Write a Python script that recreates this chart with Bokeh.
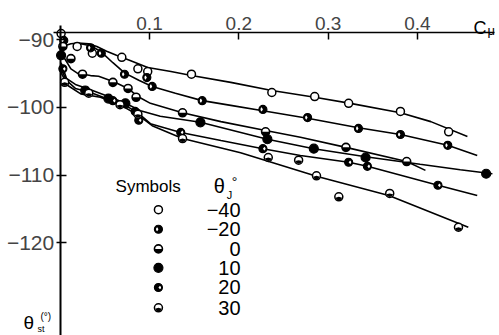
import math
from bokeh.plotting import figure
from bokeh.models import Label, FixedTicker, Range1d, LinearAxis
from bokeh.embed import file_html
from bokeh.resources import INLINE

FONT = "Liberation Sans"

# ---- data ----
theta_j = ["\u221240", "\u221220", "0", "10", "20", "30"]

# theta_J = -40 (open circles)
m40_x = [0.001, 0.019, 0.036, 0.069, 0.087, 0.098, 0.147, 0.237, 0.285, 0.323, 0.381, 0.435]
m40_y = [-89.1, -91.0, -92.0, -92.6, -94.3, -94.7, -95.1, -97.8, -98.4, -99.4, -100.6, -103.6]
m40_cx = [0.001, 0.005, 0.012, 0.020, 0.032, 0.041, 0.052, 0.063, 0.079, 0.098, 0.124, 0.147, 0.191, 0.237, 0.285, 0.325, 0.381, 0.415, 0.456]
m40_cy = [-91.3, -90.9, -90.6, -90.5, -90.6, -91.0, -91.7, -92.3, -93.1, -94.1, -94.7, -95.3, -96.3, -97.5, -98.5, -99.4, -100.8, -102.1, -104.3]

# theta_J = -20
m20_x = [0.004, 0.034, 0.046, 0.072, 0.097, 0.103, 0.159, 0.227, 0.277, 0.334, 0.381, 0.434]
m20_y = [-90.1, -91.2, -92.0, -95.1, -95.6, -96.9, -99.0, -100.3, -101.5, -103.1, -104.0, -105.6]
m20_cx = [0.023, 0.034, 0.045, 0.059, 0.072, 0.088, 0.103, 0.129, 0.159, 0.191, 0.227, 0.277, 0.334, 0.381, 0.434, 0.467]
m20_cy = [-90.6, -90.9, -91.7, -93.4, -94.9, -96.0, -96.9, -97.9, -99.0, -99.7, -100.5, -101.6, -103.0, -104.0, -105.6, -107.1]

# theta_J = 0
z0_x = [0.003, 0.012, 0.025, 0.059, 0.076, 0.085, 0.137, 0.230, 0.320, 0.388]
z0_y = [-91.0, -92.8, -95.1, -96.3, -97.2, -98.5, -100.8, -103.6, -105.9, -108.0]
z0_cx = [0.001, 0.005, 0.012, 0.020, 0.034, 0.043, 0.060, 0.076, 0.087, 0.101, 0.137, 0.180, 0.230, 0.269, 0.320, 0.388, 0.409]
z0_cy = [-91.2, -92.8, -94.3, -95.0, -95.3, -95.4, -96.2, -97.2, -98.4, -99.4, -100.8, -102.1, -103.4, -104.4, -105.9, -108.0, -109.3]

# theta_J = 10
p10_x = [0.001, 0.028, 0.054, 0.073, 0.157, 0.232, 0.284, 0.342, 0.477]
p10_y = [-92.3, -97.5, -98.7, -99.4, -102.2, -104.7, -106.1, -107.4, -109.8]
p10_cx = [0.001, 0.007, 0.017, 0.034, 0.054, 0.073, 0.090, 0.112, 0.157, 0.232, 0.284, 0.342, 0.403, 0.448, 0.484]
p10_cy = [-93.4, -95.7, -96.6, -97.4, -98.4, -99.4, -100.5, -101.3, -102.2, -104.7, -106.1, -107.3, -108.4, -109.2, -109.8]

# theta_J = 20
p20_x = [0.003, 0.059, 0.084, 0.088, 0.135, 0.227, 0.323, 0.344, 0.423]
p20_y = [-94.3, -99.0, -100.6, -101.9, -103.7, -106.1, -108.1, -108.7, -111.5]
p20_cx = [0.001, 0.007, 0.017, 0.034, 0.054, 0.073, 0.087, 0.101, 0.135, 0.180, 0.227, 0.269, 0.323, 0.344, 0.423, 0.467]
p20_cy = [-94.3, -96.0, -97.2, -97.8, -98.8, -99.7, -100.8, -102.4, -103.7, -104.9, -106.1, -107.1, -108.1, -108.7, -111.5, -113.0]

# theta_J = 30
p30_x = [0.005, 0.032, 0.067, 0.087, 0.137, 0.233, 0.267, 0.287, 0.312, 0.369, 0.446]
p30_y = [-96.3, -97.9, -99.6, -101.0, -104.6, -107.4, -107.8, -110.1, -113.2, -112.7, -117.7]
p30_cx = [0.001, 0.009, 0.023, 0.045, 0.067, 0.087, 0.103, 0.137, 0.202, 0.288, 0.368, 0.457]
p30_cy = [-94.9, -96.8, -98.0, -98.5, -99.6, -101.1, -102.7, -104.6, -106.7, -110.2, -113.0, -117.7]

x_ticks = [0.1, 0.2, 0.3, 0.4]
y_ticks = [-120, -110, -100, -90]
y_tick_labels = ["\u2212120", "\u2212110", "\u2212100", "\u221290"]

series = [
    ("open", m40_x, m40_y, m40_cx, m40_cy),
    ("m20", m20_x, m20_y, m20_cx, m20_cy),
    ("z0", z0_x, z0_y, z0_cx, z0_cy),
    ("p10", p10_x, p10_y, p10_cx, p10_cy),
    ("p20", p20_x, p20_y, p20_cx, p20_cy),
    ("p30", p30_x, p30_y, p30_cx, p30_cy),
]

# ranges: the frame fills the whole figure, axes sit at fixed locations
X0, X1 = -0.06685, 0.49194
Y_BOT, Y_TOP = -133.69, -84.21
X_AXIS_AT = -88.94   # value where the Cmu axis crosses
Y_AXIS_AT = 0.0      # Cmu where the theta axis stands

p = figure(width=499, height=335, x_range=Range1d(X0, X1), y_range=Range1d(Y_BOT, Y_TOP),
           output_backend="svg", toolbar_location=None,
           x_axis_location=None, y_axis_location=None, min_border=0)
p.outline_line_color = None
p.grid.visible = False
p.background_fill_color = "white"

xa = LinearAxis(fixed_location=X_AXIS_AT, bounds=(-0.008, 0.486), ticker=FixedTicker(ticks=x_ticks))
xa.axis_line_width = 1.6
xa.major_tick_in = 7
xa.major_tick_out = 0
xa.major_tick_line_width = 1.5
xa.minor_tick_line_color = None
xa.major_label_text_font = FONT
xa.major_label_text_font_size = "19px"
xa.major_label_standoff = 3
p.add_layout(xa, "above")

ya = LinearAxis(fixed_location=Y_AXIS_AT, bounds=(Y_BOT, -87.9), ticker=FixedTicker(ticks=y_ticks))
ya.major_label_overrides = {t: s for t, s in zip(y_ticks, y_tick_labels)}
ya.axis_line_width = 2
ya.major_tick_in = 6
ya.major_tick_out = 4
ya.major_tick_line_width = 1.5
ya.minor_tick_line_color = None
ya.major_label_text_font = FONT
ya.major_label_text_font_size = "21px"
ya.major_label_standoff = 2
p.add_layout(ya, "left")


def draw_marks(xs, ys, style, size=8):
    r = size / 2.0
    if style == "open":
        p.scatter(xs, ys, marker="circle", size=size, fill_color="white", line_color="black", line_width=1.5)
    elif style == "m20":
        p.scatter(xs, ys, marker="circle", size=size, fill_color="black", line_color="black", line_width=1.2)
        p.wedge(xs, ys, radius=r - 1.6, radius_units="screen", start_angle=math.radians(120),
                end_angle=math.radians(240), fill_color="white", line_color=None)
    elif style == "z0":
        p.scatter(xs, ys, marker="circle", size=size, fill_color="white", line_color="black", line_width=1.6)
        p.wedge(xs, ys, radius=r, radius_units="screen", start_angle=math.pi,
                end_angle=2 * math.pi, fill_color="black", line_color=None)
    elif style == "p10":
        p.scatter(xs, ys, marker="circle", size=size + 1, fill_color="black", line_color="black", line_width=1.2)
    elif style == "p20":
        p.scatter(xs, ys, marker="circle", size=size, fill_color="black", line_color="black", line_width=1.2)
        p.wedge(xs, ys, radius=r - 1.6, radius_units="screen", start_angle=math.radians(-50),
                end_angle=math.radians(50), fill_color="white", line_color=None)
    elif style == "p30":
        p.scatter(xs, ys, marker="circle", size=size, fill_color="white", line_color="black", line_width=1.5)
        p.wedge(xs, ys, radius=r - 0.5, radius_units="screen", start_angle=math.radians(195),
                end_angle=math.radians(345), fill_color="black", line_color=None)


for style, xs, ys, cx, cy in series:
    p.line(cx, cy, line_color="black", line_width=1.6)
for style, xs, ys, cx, cy in series:
    draw_marks(xs, ys, style)

# ---- legend (drawn by hand, like the original) ----
leg_sym_x = 0.110
leg_num_x = 0.202
leg_rows_y = [-115.1, -118.0, -120.9, -123.7, -126.6, -129.6]

p.add_layout(Label(x=0.062, y=-111.7, text="Symbols", text_font=FONT, text_font_size="17px",
                   text_baseline="middle", text_color="black"))
p.add_layout(Label(x=0.172, y=-111.6, text="\u03b8", text_font=FONT, text_font_size="20px",
                   text_baseline="middle", text_color="black"))
p.add_layout(Label(x=0.1865, y=-113.0, text="J", text_font=FONT, text_font_size="11px",
                   text_baseline="alphabetic", text_color="black"))
p.add_layout(Label(x=0.192, y=-110.95, text="\u00b0", text_font=FONT, text_font_size="14px",
                   text_baseline="alphabetic", text_color="black"))

for (style, *_), yy, lab in zip(series, leg_rows_y, theta_j):
    draw_marks([leg_sym_x], [yy], style)
    p.add_layout(Label(x=leg_num_x, y=yy, text=lab, text_font=FONT, text_font_size="20px",
                       text_align="right", text_baseline="middle", text_color="black"))

# ---- axis titles ----
p.add_layout(Label(x=0.4628, y=-88.20, text="C", text_font=FONT, text_font_size="18px",
                   text_baseline="alphabetic", text_color="black"))
p.add_layout(Label(x=0.4785, y=-88.64, text="\u03bc", text_font=FONT, text_font_size="13px",
                   text_baseline="alphabetic", text_color="black"))
p.add_layout(Label(x=-0.0411, y=-133.25, text="\u03b8", text_font=FONT, text_font_size="19px",
                   text_baseline="bottom", text_color="black"))
p.add_layout(Label(x=-0.0254, y=-133.40, text="st", text_font=FONT, text_font_size="9px",
                   text_baseline="bottom", text_color="black"))
p.add_layout(Label(x=-0.0221, y=-130.9, text="(\u00b0)", text_font=FONT, text_font_size="10px",
                   text_baseline="alphabetic", text_color="black"))

open("out.html", "w").write(file_html(p, INLINE))
